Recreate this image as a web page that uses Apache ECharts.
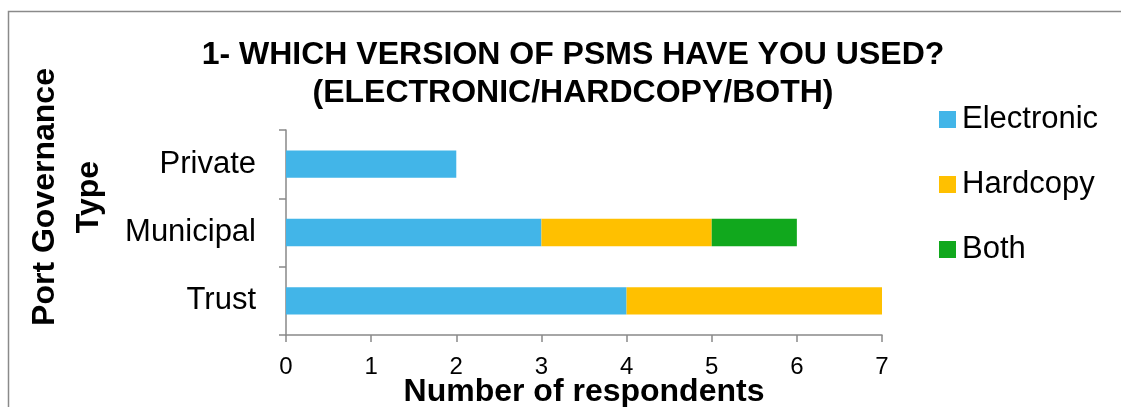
<!DOCTYPE html>
<html>
<head>
<meta charset="utf-8">
<script src="https://cdn.jsdelivr.net/npm/echarts@6/dist/echarts.min.js"></script>
<style>
  html, body { margin: 0; padding: 0; background: #ffffff; }
  #chart { width: 1121px; height: 407px; }
</style>
</head>
<body>
<div id="chart"></div>
<script>
// Port governance types (top to bottom) and response counts per PSMS version
const categories = ['Private', 'Municipal', 'Trust'];
const electronic = [2, 3, 4];
const hardcopy = [0, 2, 3];
const both = [0, 1, 0];
const xTicks = [0, 1, 2, 3, 4, 5, 6, 7];

const FONT = '"Liberation Sans", Arial, sans-serif';
const AXIS_GRAY = '#898989';

const chart = echarts.init(document.getElementById('chart'), null, { renderer: 'canvas' });

function barSeries(name, data, color) {
  return {
    name: name,
    type: 'bar',
    stack: 'total',
    data: data,
    barCategoryGap: '60%',
    itemStyle: { color: color },
    emphasis: { disabled: true }
  };
}

chart.setOption({
  animation: false,
  backgroundColor: '#ffffff',
  textStyle: { fontFamily: FONT },
  graphic: [
    {
      // chart frame
      type: 'rect',
      shape: { x: 8.5, y: 11.5, width: 1300, height: 600 },
      style: { fill: 'none', stroke: '#8a8a8a', lineWidth: 1.5 },
      silent: true
    },
    {
      // vertical axis title
      type: 'text',
      x: 67,
      y: 197,
      rotation: Math.PI / 2,
      silent: true,
      style: {
        text: 'Port Governance\nType',
        fontFamily: FONT,
        fontSize: 32,
        fontWeight: 'bold',
        fill: '#000000',
        lineHeight: 44,
        align: 'center',
        verticalAlign: 'middle'
      }
    }
  ],
  title: {
    text: '1- WHICH VERSION OF PSMS HAVE YOU USED?\n(ELECTRONIC/HARDCOPY/BOTH)',
    left: 568,
    top: 31,
    textAlign: 'center',
    textStyle: {
      fontFamily: FONT,
      fontSize: 32,
      fontWeight: 'bold',
      color: '#000000',
      lineHeight: 38
    }
  },
  legend: {
    orient: 'vertical',
    left: 934,
    top: 99,
    itemWidth: 17,
    itemHeight: 17,
    itemGap: 34,
    icon: 'rect',
    textStyle: { fontFamily: FONT, fontSize: 31, color: '#000000', padding: [0, 0, 0, 1] },
    data: ['Electronic', 'Hardcopy', 'Both']
  },
  grid: { left: 286, right: 239, top: 130, bottom: 72, containLabel: false, outerBoundsMode: 'none' },
  xAxis: {
    type: 'value',
    min: xTicks[0],
    max: xTicks[xTicks.length - 1],
    interval: 1,
    name: 'Number of respondents',
    nameLocation: 'middle',
    nameGap: 41,
    nameMoveOverlap: false,
    nameTextStyle: { fontFamily: FONT, fontSize: 32, fontWeight: 'bold', color: '#000000' },
    axisLine: { show: true, lineStyle: { color: AXIS_GRAY, width: 1.5 } },
    axisTick: { show: true, inside: false, length: 7, lineStyle: { color: AXIS_GRAY, width: 1.5 } },
    axisLabel: { fontFamily: FONT, fontSize: 24, color: '#000000', margin: 20 },
    splitLine: { show: false }
  },
  yAxis: {
    type: 'category',
    data: categories,
    inverse: true,
    axisLine: { show: true, lineStyle: { color: AXIS_GRAY, width: 1.5 } },
    axisTick: { show: true, inside: false, length: 7, lineStyle: { color: AXIS_GRAY, width: 1.5 } },
    axisLabel: { fontFamily: FONT, fontSize: 31, color: '#000000', margin: 30 },
    splitLine: { show: false }
  },
  series: [
    barSeries('Electronic', electronic, '#42B5E8'),
    barSeries('Hardcopy', hardcopy, '#FFC000'),
    barSeries('Both', both, '#11A81D')
  ]
});
</script>
</body>
</html>
